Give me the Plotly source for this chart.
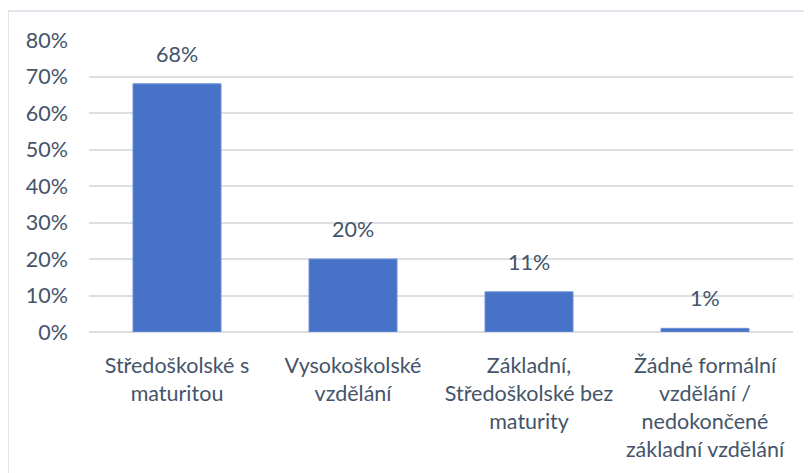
import plotly.graph_objects as go

categories = [
    "Středoškolské s<br>maturitou",
    "Vysokoškolské<br>vzdělání",
    "Základní,<br>Středoškolské bez<br>maturity",
    "Žádné formální<br>vzdělání /<br>nedokončené<br>základní vzdělání",
]
values = [0.68, 0.20, 0.11, 0.01]
value_labels = ["68%", "20%", "11%", "1%"]
y_ticks = [0, 0.1, 0.2, 0.3, 0.4, 0.5, 0.6, 0.7, 0.8]
y_tick_labels = ["0%", "10%", "20%", "30%", "40%", "50%", "60%", "70%", "80%"]

FONT = "Lato"
FS = 21.5
TXT = "#44546A"
GRID = "#dcdfe4"

fig = go.Figure()
fig.add_trace(go.Bar(
    x=categories,
    y=values,
    marker=dict(color="#4672c8", line=dict(color="#6d8fd6", width=1)),
    hoverinfo="skip",
))

for c, v, t in zip(categories, values, value_labels):
    fig.add_annotation(x=c, y=v, text=t, showarrow=False, yanchor="middle",
                       yshift=30, font=dict(family=FONT, size=FS, color=TXT))

# the page body has an 8px margin, so the figure origin sits at page (8, 8)
OFF = 8
L, R, T, B = 89 - OFF, 812 - (793 - OFF), 40 - OFF, 473 - (332 - OFF)
W, H = 812 - L - R, 473 - T - B
plot_bottom = 473 - B
fig.add_shape(type="rect", xref="paper", yref="paper",
              x0=(0 - L) / W, x1=(830 - L) / W,
              y0=-(490 - plot_bottom) / H, y1=(plot_bottom - 3) / H,
              line=dict(color="#d9dee6", width=1.5), layer="below")

fig.update_layout(
    width=812, height=473,
    margin=dict(l=L, r=R, t=T, b=B, autoexpand=False),
    paper_bgcolor="white", plot_bgcolor="white",
    bargap=0.5,
    showlegend=False,
    font=dict(family=FONT, size=FS, color=TXT),
    xaxis=dict(showgrid=False, showline=False, zeroline=False, automargin=False,
               ticks="outside", ticklen=14, tickcolor="rgba(0,0,0,0)",
               tickfont=dict(family=FONT, size=FS, color=TXT)),
    yaxis=dict(range=[0, 0.8], tickvals=y_ticks, ticktext=y_tick_labels,
               showgrid=True, gridcolor=GRID, gridwidth=2, automargin=False,
               zeroline=True, zerolinecolor=GRID, zerolinewidth=2,
               showline=False, ticklabelstandoff=20,
               tickfont=dict(family=FONT, size=FS, color=TXT)),
)

fig.write_html("out.html")
